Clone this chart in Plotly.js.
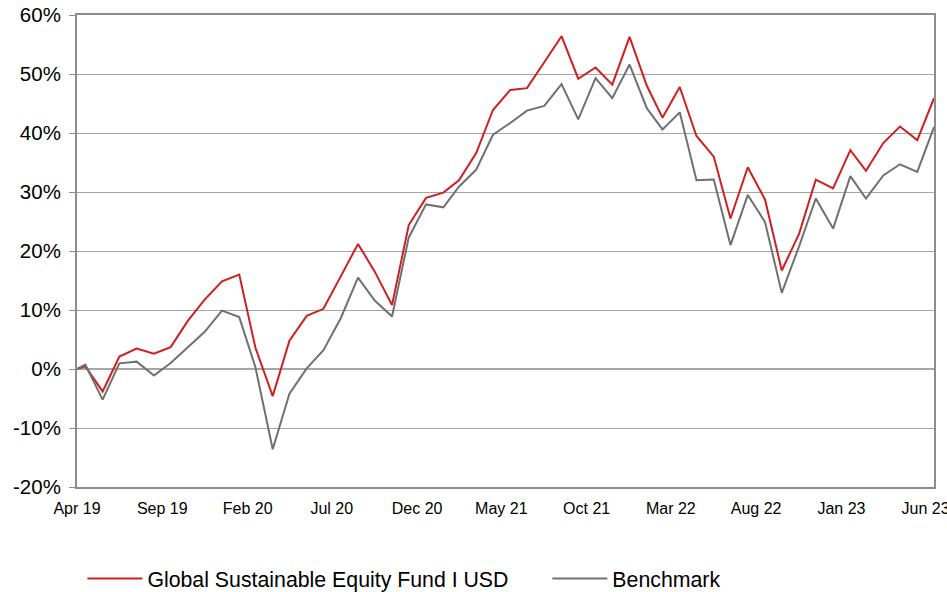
<!DOCTYPE html>
<html>
<head>
<meta charset="utf-8">
<script src="https://cdn.plot.ly/plotly-3.0.1.min.js"></script>
<style>
  html, body { margin: 0; padding: 0; background: #ffffff; }
  #chart { width: 947px; height: 592px; }
</style>
</head>
<body>
<div id="chart"></div>
<script>
// Dates: inception point, then month-ends
const dates = [
  '2019-04-15', '2019-04-30', '2019-05-31', '2019-06-30', '2019-07-31', '2019-08-31', '2019-09-30', '2019-10-31', '2019-11-30', '2019-12-31',
  '2020-01-31', '2020-02-29', '2020-03-31', '2020-04-30', '2020-05-31', '2020-06-30', '2020-07-31', '2020-08-31', '2020-09-30', '2020-10-31', '2020-11-30', '2020-12-31',
  '2021-01-31', '2021-02-28', '2021-03-31', '2021-04-30', '2021-05-31', '2021-06-30', '2021-07-31', '2021-08-31', '2021-09-30', '2021-10-31', '2021-11-30', '2021-12-31',
  '2022-01-31', '2022-02-28', '2022-03-31', '2022-04-30', '2022-05-31', '2022-06-30', '2022-07-31', '2022-08-31', '2022-09-30', '2022-10-31', '2022-11-30', '2022-12-31',
  '2023-01-31', '2023-02-28', '2023-03-31', '2023-04-30', '2023-05-31', '2023-06-30'
];

const fundName = 'Global Sustainable Equity Fund I USD';
const fundValues = [
  0, 0.45, -3.8, 2.1, 3.45, 2.6, 3.7, 8.2, 11.75, 14.85,
  16.0, 3.6, -4.6, 4.8, 9.0, 10.2, 15.7, 21.2, 16.5, 10.85, 24.4, 29.0,
  29.9, 32.0, 36.6, 43.9, 47.3, 47.6, 52.0, 56.4, 49.2, 51.1, 48.2, 56.3,
  48.0, 42.6, 47.8, 39.5, 36.0, 25.5, 34.2, 28.7, 16.7, 22.9, 32.1, 30.6,
  37.1, 33.6, 38.3, 41.1, 38.8, 45.9
];

const benchName = 'Benchmark';
const benchValues = [
  0, 0.73, -5.2, 0.96, 1.25, -1.1, 1.0, 3.7, 6.3, 9.9,
  8.8, 0.3, -13.6, -4.2, 0.1, 3.2, 8.6, 15.5, 11.6, 8.9, 22.3, 27.9,
  27.4, 30.9, 33.8, 39.7, 41.7, 43.8, 44.6, 48.3, 42.3, 49.3, 45.9, 51.6,
  44.2, 40.6, 43.5, 32.0, 32.1, 21.0, 29.5, 24.9, 12.9, 20.8, 28.9, 23.8,
  32.7, 28.9, 32.8, 34.7, 33.4, 41.0
];

const xTickDates = ['2019-04-15', '2019-09-15', '2020-02-15', '2020-07-15', '2020-12-15', '2021-05-15',
                    '2021-10-15', '2022-03-15', '2022-08-15', '2023-01-15', '2023-06-15'];
const xTickLabels = ['Apr 19', 'Sep 19', 'Feb 20', 'Jul 20', 'Dec 20', 'May 21',
                     'Oct 21', 'Mar 22', 'Aug 22', 'Jan 23', 'Jun 23'];

const yTickValues = [-20, -10, 0, 10, 20, 30, 40, 50, 60];
const yTickLabels = ['-20%', '-10%', '0%', '10%', '20%', '30%', '40%', '50%', '60%'];

const xRange = [dates[0], dates[dates.length - 1]];
const yRange = [yTickValues[0], yTickValues[yTickValues.length - 1]];
const fontFamily = '"Liberation Sans", Arial, sans-serif';

const traces = [
  {
    x: dates, y: fundValues, name: fundName, type: 'scatter', mode: 'lines',
    line: { color: '#cf1f1f', width: 2 }, legend: 'legend'
  },
  {
    x: dates, y: benchValues, name: benchName, type: 'scatter', mode: 'lines',
    line: { color: '#707070', width: 2 }, legend: 'legend2'
  }
];

const legendCommon = {
  orientation: 'h', xref: 'container', yref: 'container',
  xanchor: 'left', y: 0.0225, yanchor: 'middle',
  font: { size: 21.3, family: fontFamily, color: '#000000' },
  itemwidth: 55,
  bgcolor: 'rgba(0,0,0,0)'
};

const layout = {
  width: 947, height: 592,
  margin: { l: 77, r: 13, t: 15, b: 105 },
  paper_bgcolor: '#ffffff', plot_bgcolor: '#ffffff',
  font: { family: fontFamily, color: '#000000' },
  showlegend: true,
  legend: Object.assign({}, legendCommon, { x: 0.087 }),
  legend2: Object.assign({}, legendCommon, { x: 0.578 }),
  xaxis: {
    type: 'date', range: xRange,
    tickmode: 'array', tickvals: xTickDates, ticktext: xTickLabels,
    ticks: '', ticklabelstandoff: 6, ticklabeloverflow: 'allow',
    tickfont: { size: 16, family: fontFamily, color: '#000000' },
    showgrid: false, zeroline: false,
    showline: true, mirror: true, linecolor: '#8c8c8c', linewidth: 2
  },
  xaxis2: {
    type: 'date', range: xRange, overlaying: 'x', matches: 'x',
    anchor: 'free', position: 0.25,
    tickmode: 'array', tickvals: xTickDates,
    ticks: 'outside', ticklen: 4, tickcolor: '#8c8c8c', tickwidth: 1,
    showticklabels: false, showgrid: false, zeroline: false, showline: false
  },
  yaxis: {
    range: yRange,
    tickmode: 'array', tickvals: yTickValues, ticktext: yTickLabels,
    ticks: 'outside', ticklen: 6, tickcolor: '#8c8c8c', tickwidth: 1,
    ticklabelstandoff: 4,
    tickfont: { size: 20.5, family: fontFamily, color: '#000000' },
    showgrid: true, gridcolor: '#a6a6a6', gridwidth: 1,
    zeroline: true, zerolinecolor: '#a6a6a6', zerolinewidth: 2,
    showline: true, mirror: true, linecolor: '#8c8c8c', linewidth: 2
  }
};

Plotly.newPlot('chart', traces, layout, { staticPlot: true, displayModeBar: false });
</script>
</body>
</html>
